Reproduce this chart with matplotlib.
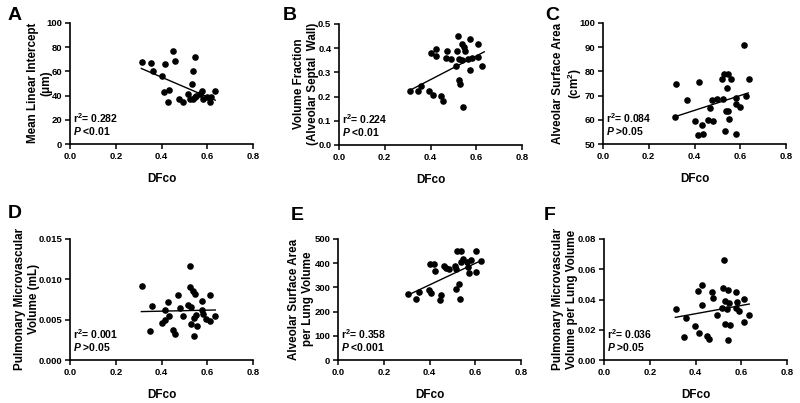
import matplotlib
matplotlib.use("Agg")
import matplotlib.pyplot as plt
from matplotlib.ticker import FormatStrFormatter

plt.rcParams['font.family'] = ['Liberation Sans', 'DejaVu Sans']
plt.rcParams['font.weight'] = 'bold'
plt.rcParams['mathtext.fontset'] = 'custom'
plt.rcParams['mathtext.rm'] = 'Liberation Sans'
plt.rcParams['mathtext.bf'] = 'Liberation Sans:bold'
plt.rcParams['mathtext.it'] = 'Liberation Sans:italic'
plt.rcParams['mathtext.bfit'] = 'Liberation Sans:italic:bold'

# panel A - mean linear intercept
a_x = [0.316, 0.352, 0.363, 0.401, 0.414, 0.411, 0.433, 0.429, 0.451, 0.461, 0.477, 0.495,
       0.533, 0.536, 0.545, 0.517, 0.524, 0.539, 0.548, 0.553, 0.577, 0.568, 0.580, 0.597,
       0.612, 0.615, 0.634]
a_y = [68, 67, 60, 56, 66, 43, 44.5, 35, 77, 69, 37, 35,
       49.5, 60, 71.5, 41, 37, 37, 38.5, 40, 44, 41, 37, 38.5,
       35, 39, 43.5]
a_fit = [62.4, 36.2]

# panel B - volume fraction
b_x = [0.311, 0.347, 0.358, 0.393, 0.409, 0.403, 0.423, 0.423, 0.447, 0.455, 0.472, 0.469,
       0.488, 0.512, 0.517, 0.520, 0.524, 0.531, 0.526, 0.539, 0.537, 0.545, 0.550, 0.542,
       0.571, 0.574, 0.565, 0.582, 0.606, 0.607, 0.626]
b_y = [0.223, 0.222, 0.242, 0.223, 0.208, 0.381, 0.395, 0.368, 0.201, 0.181, 0.390, 0.360,
       0.355, 0.325, 0.389, 0.449, 0.267, 0.251, 0.357, 0.350, 0.417, 0.406, 0.389, 0.159,
       0.438, 0.309, 0.357, 0.361, 0.416, 0.364, 0.325]
b_fit = [0.227, 0.385]

# panel C - alveolar surface area
c_x = [0.319, 0.314, 0.366, 0.418, 0.404, 0.414, 0.433, 0.436, 0.458, 0.466, 0.478, 0.481,
       0.499, 0.519, 0.526, 0.531, 0.548, 0.559, 0.541, 0.537, 0.548, 0.535, 0.550, 0.580,
       0.583, 0.583, 0.598, 0.617, 0.623, 0.639]
c_y = [75, 61.2, 68, 75.5, 59.4, 53.6, 58, 54.3, 59.8, 65, 68.2, 59.4,
       68.7, 77, 68.7, 79, 79, 77, 73, 63.8, 63.5, 55.5, 60.5, 69,
       54, 66.5, 65.2, 91, 70, 76.7]
c_fit = [61.2, 71.1]

# panel D - pulmonary microvascular volume
d_x = [0.316, 0.360, 0.351, 0.402, 0.414, 0.414, 0.429, 0.432, 0.451, 0.461, 0.474, 0.479,
       0.495, 0.518, 0.524, 0.526, 0.531, 0.539, 0.548, 0.529, 0.543, 0.550, 0.543, 0.555,
       0.577, 0.579, 0.581, 0.593, 0.611, 0.614, 0.634]
d_y = [0.0092, 0.0067, 0.0036, 0.0046, 0.0062, 0.0049, 0.0072, 0.0054, 0.0037, 0.0032, 0.0080, 0.0064,
       0.0054, 0.0068, 0.0090, 0.0116, 0.0066, 0.0085, 0.0082, 0.0045, 0.0052, 0.0056, 0.0030, 0.0042,
       0.0073, 0.0062, 0.0057, 0.0051, 0.0081, 0.0048, 0.0055]
d_fit = [0.0060, 0.0062]

# panel E - alveolar surface area per lung volume
e_x = [0.308, 0.343, 0.352, 0.396, 0.406, 0.401, 0.419, 0.423, 0.444, 0.451, 0.464, 0.471,
       0.487, 0.511, 0.516, 0.519, 0.518, 0.528, 0.537, 0.537, 0.545, 0.535, 0.564, 0.569,
       0.572, 0.582, 0.602, 0.605, 0.624]
e_y = [271, 251, 280, 289, 275, 395, 397, 369, 249, 269, 388, 379,
       376, 388, 375, 450, 292, 313, 449, 406, 416, 251, 406, 383,
       361, 413, 450, 365, 409]
e_fit = [271, 415]

# panel F - pulmonary microvascular volume per lung volume
f_x = [0.314, 0.360, 0.351, 0.399, 0.409, 0.414, 0.428, 0.430, 0.450, 0.459, 0.472, 0.475,
       0.493, 0.515, 0.520, 0.526, 0.528, 0.531, 0.544, 0.544, 0.548, 0.539, 0.553, 0.577,
       0.580, 0.576, 0.592, 0.611, 0.614, 0.633]
f_y = [0.0337, 0.0278, 0.0152, 0.0223, 0.0456, 0.0181, 0.0496, 0.0364, 0.0159, 0.0137, 0.0450, 0.0408,
       0.0295, 0.0344, 0.0478, 0.0661, 0.0388, 0.0238, 0.0130, 0.0465, 0.0375, 0.0337, 0.0229, 0.0447,
       0.0384, 0.0342, 0.0326, 0.0401, 0.0251, 0.0295]
f_fit = [0.0282, 0.0370]

fit_x = [0.312, 0.635]

panels = [
    ("A", a_x, a_y, a_fit, "Mean Linear Intercept\n(\u03bcm)", (0, 100), [0, 20, 40, 60, 80, 100], "%d",
     "0.282", "<0.01", [70, 23], 40),
    ("B", b_x, b_y, b_fit, "Volume Fraction\n(Alveolar Septal  Wall)", (0, 0.5), [0, 0.1, 0.2, 0.3, 0.4, 0.5], "%.1f",
     "0.224", "<0.01", [339, 24], 306),
    ("C", c_x, c_y, c_fit, "Alveolar Surface Area\n(cm$^\\mathbf{2}$)", (50, 100), [50, 60, 70, 80, 90, 100], "%d",
     "0.084", ">0.05", [603, 23], 568),
    ("D", d_x, d_y, d_fit, "Pulmonary Microvascular\nVolume (mL)", (0, 0.015), [0, 0.005, 0.010, 0.015], "%.3f",
     "0.001", ">0.05", [70, 239], 27),
    ("E", e_x, e_y, e_fit, "Alveolar Surface Area\nper Lung Volume", (0, 500), [0, 100, 200, 300, 400, 500], "%d",
     "0.358", "<0.001", [338, 239], 301),
    ("F", f_x, f_y, f_fit, "Pulmonary Microvascular\nVolume per Lung Volume", (0, 0.08), [0, 0.02, 0.04, 0.06, 0.08], "%.2f",
     "0.036", ">0.05", [604, 239], 565),
]
letter_pos = {"A": (15, 15), "B": (290, 15), "C": (552, 15),
              "D": (15, 213), "E": (297, 216), "F": (550, 215)}

W, H = 800, 403
fig = plt.figure(figsize=(8, 4.03), dpi=100)

for (lab, xs, ys, fit, ylab, ylim, yticks, fmt, r2, p, (left, top), ylx) in panels:
    ax = fig.add_axes([left / W, 1 - (top + 121) / H, 183 / W, 121 / H])
    ax.scatter(xs, ys, s=14, color="black", zorder=3)
    ax.plot(fit_x, fit, color="black", lw=1)
    ax.set_xlim(0, 0.8)
    ax.set_ylim(*ylim)
    ax.set_xticks([0, 0.2, 0.4, 0.6, 0.8])
    ax.set_yticks(yticks)
    ax.xaxis.set_major_formatter(FormatStrFormatter("%.1f"))
    ax.yaxis.set_major_formatter(FormatStrFormatter(fmt))
    ax.spines["top"].set_visible(False)
    ax.spines["right"].set_visible(False)
    for s in ("left", "bottom"):
        ax.spines[s].set_linewidth(1.2)
    ax.tick_params(direction="out", length=3.5, width=1.1, labelsize=6.8, pad=2)
    for t in ax.get_xticklabels() + ax.get_yticklabels():
        t.set_fontweight("bold")
    ax.set_xlabel("DFco", fontsize=8.5, fontweight="bold", labelpad=9)
    ax.text(0.015, 0.21, "r$^\\mathbf{2}$= " + r2, transform=ax.transAxes, fontsize=7.5,
            fontweight="bold", va="center")
    ax.text(0.015, 0.105, "$\\mathbfit{P}$ " + p, transform=ax.transAxes, fontsize=7.5,
            fontweight="bold", va="center")
    fig.text(ylx / W, 1 - (top + 60) / H, ylab, rotation=90, ha="center", va="center",
             multialignment="center", fontsize=8.4, fontweight="bold", linespacing=1.15)
    lx, ly = letter_pos[lab]
    fig.text(lx / W, 1 - ly / H, lab, ha="center", va="center", fontsize=14, fontweight="bold")

fig.savefig("out.png", dpi=100)
